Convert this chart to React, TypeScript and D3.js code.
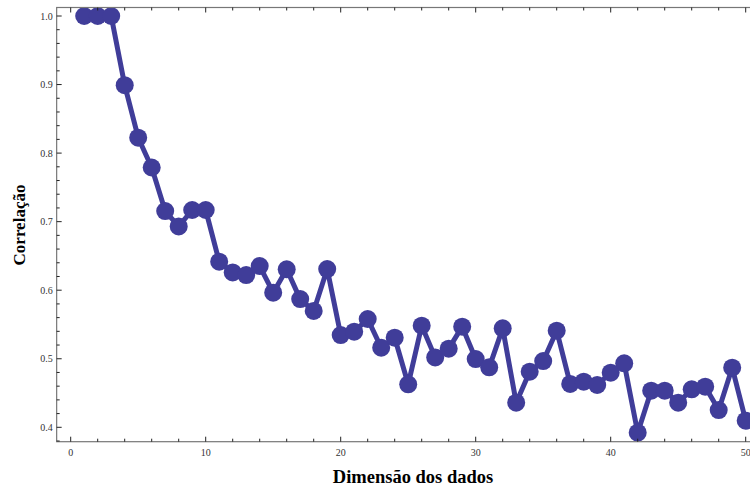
import React from "react";
import * as d3 from "d3";

const dims = Array.from({ length: 50 }, (_, i) => i + 1);
const correlation = [
  1.0, 1.0, 1.0, 0.899, 0.8225, 0.779, 0.7155, 0.693, 0.717, 0.717,
  0.6416, 0.626, 0.622, 0.6352, 0.5964, 0.6305, 0.587, 0.5697, 0.6309, 0.5346,
  0.5395, 0.558, 0.5162, 0.5307, 0.4627, 0.5482, 0.502, 0.5147, 0.5468, 0.4996,
  0.4875, 0.5444, 0.4359, 0.4811, 0.4967, 0.541, 0.4632, 0.4665, 0.4617, 0.4797,
  0.4933, 0.3921, 0.4534, 0.4534, 0.4359, 0.4554, 0.4593, 0.4252, 0.487, 0.4096,
];
const xMajor = [0, 10, 20, 30, 40, 50];
const yMajor = [0.4, 0.5, 0.6, 0.7, 0.8, 0.9, 1.0];
const xLabel = "Dimensão dos dados";
const yLabel = "Correlação";

export default function App() {
  const W = 750, H = 488;
  const x = d3.scaleLinear().domain([0, 50]).range([70.7, 745.7]);
  const y = d3.scaleLinear().domain([0.4, 1.0]).range([427.3, 16]);
  const x0 = x(-1.04), x1 = x(51.04);
  const y0 = y(0.379), y1 = y(1.0124);
  const xMinor = d3.range(0, 51, 2).filter((v) => v % 10 !== 0);
  const yMinor = d3.range(0.38, 1.011, 0.02).filter((v) => Math.abs(v * 10 - Math.round(v * 10)) > 0.01);
  const pts = dims.map((d, i) => [x(d), y(correlation[i])] as [number, number]);
  const line = d3.line()(pts) || "";
  const color = "#403d99";
  const font = "'Liberation Serif', 'Times New Roman', serif";
  const tickColor = "#222";
  return (
    <svg width={W} height={H} style={{ position: "absolute", left: 0, top: 0 }} fontFamily={font}>
      <rect x={0} y={0} width={W} height={H} fill="#fff" />
      <path d={line} fill="none" stroke={color} strokeWidth={5} strokeLinejoin="round" />
      {pts.map((p, i) => (
        <circle key={i} cx={p[0]} cy={p[1]} r={9} fill={color} />
      ))}
      <rect x={x0} y={y1} width={x1 - x0} height={y0 - y1} fill="none" stroke="#777" strokeWidth={1.2} />
      {xMajor.map((v) => (
        <g key={"xm" + v}>
          <line x1={x(v)} x2={x(v)} y1={y0} y2={y0 - 5} stroke={tickColor} strokeWidth={1} />
          <line x1={x(v)} x2={x(v)} y1={y1} y2={y1 + 5} stroke={tickColor} strokeWidth={1} />
          <text x={x(v)} y={y0 + 14} fontSize={10} textAnchor="middle" fill="#333">{v}</text>
        </g>
      ))}
      {xMinor.map((v) => (
        <g key={"xn" + v}>
          <line x1={x(v)} x2={x(v)} y1={y0} y2={y0 - 3} stroke={tickColor} strokeWidth={1} />
          <line x1={x(v)} x2={x(v)} y1={y1} y2={y1 + 3} stroke={tickColor} strokeWidth={1} />
        </g>
      ))}
      {yMajor.map((v) => (
        <g key={"ym" + v}>
          <line x1={x0} x2={x0 + 5} y1={y(v)} y2={y(v)} stroke={tickColor} strokeWidth={1} />
          <text x={x0 - 4} y={y(v) + 3.5} fontSize={10} textAnchor="end" fill="#333">{v.toFixed(1)}</text>
        </g>
      ))}
      {yMinor.map((v, i) => (
        <line key={"yn" + i} x1={x0} x2={x0 + 3} y1={y(v)} y2={y(v)} stroke={tickColor} strokeWidth={1} />
      ))}
      <text x={413} y={483} fontSize={18.5} fontWeight="bold" textAnchor="middle" fill="#000">{xLabel}</text>
      <text transform={`translate(25,225) rotate(-90)`} fontSize={17} fontWeight="bold" textAnchor="middle" fill="#000">{yLabel}</text>
    </svg>
  );
}
